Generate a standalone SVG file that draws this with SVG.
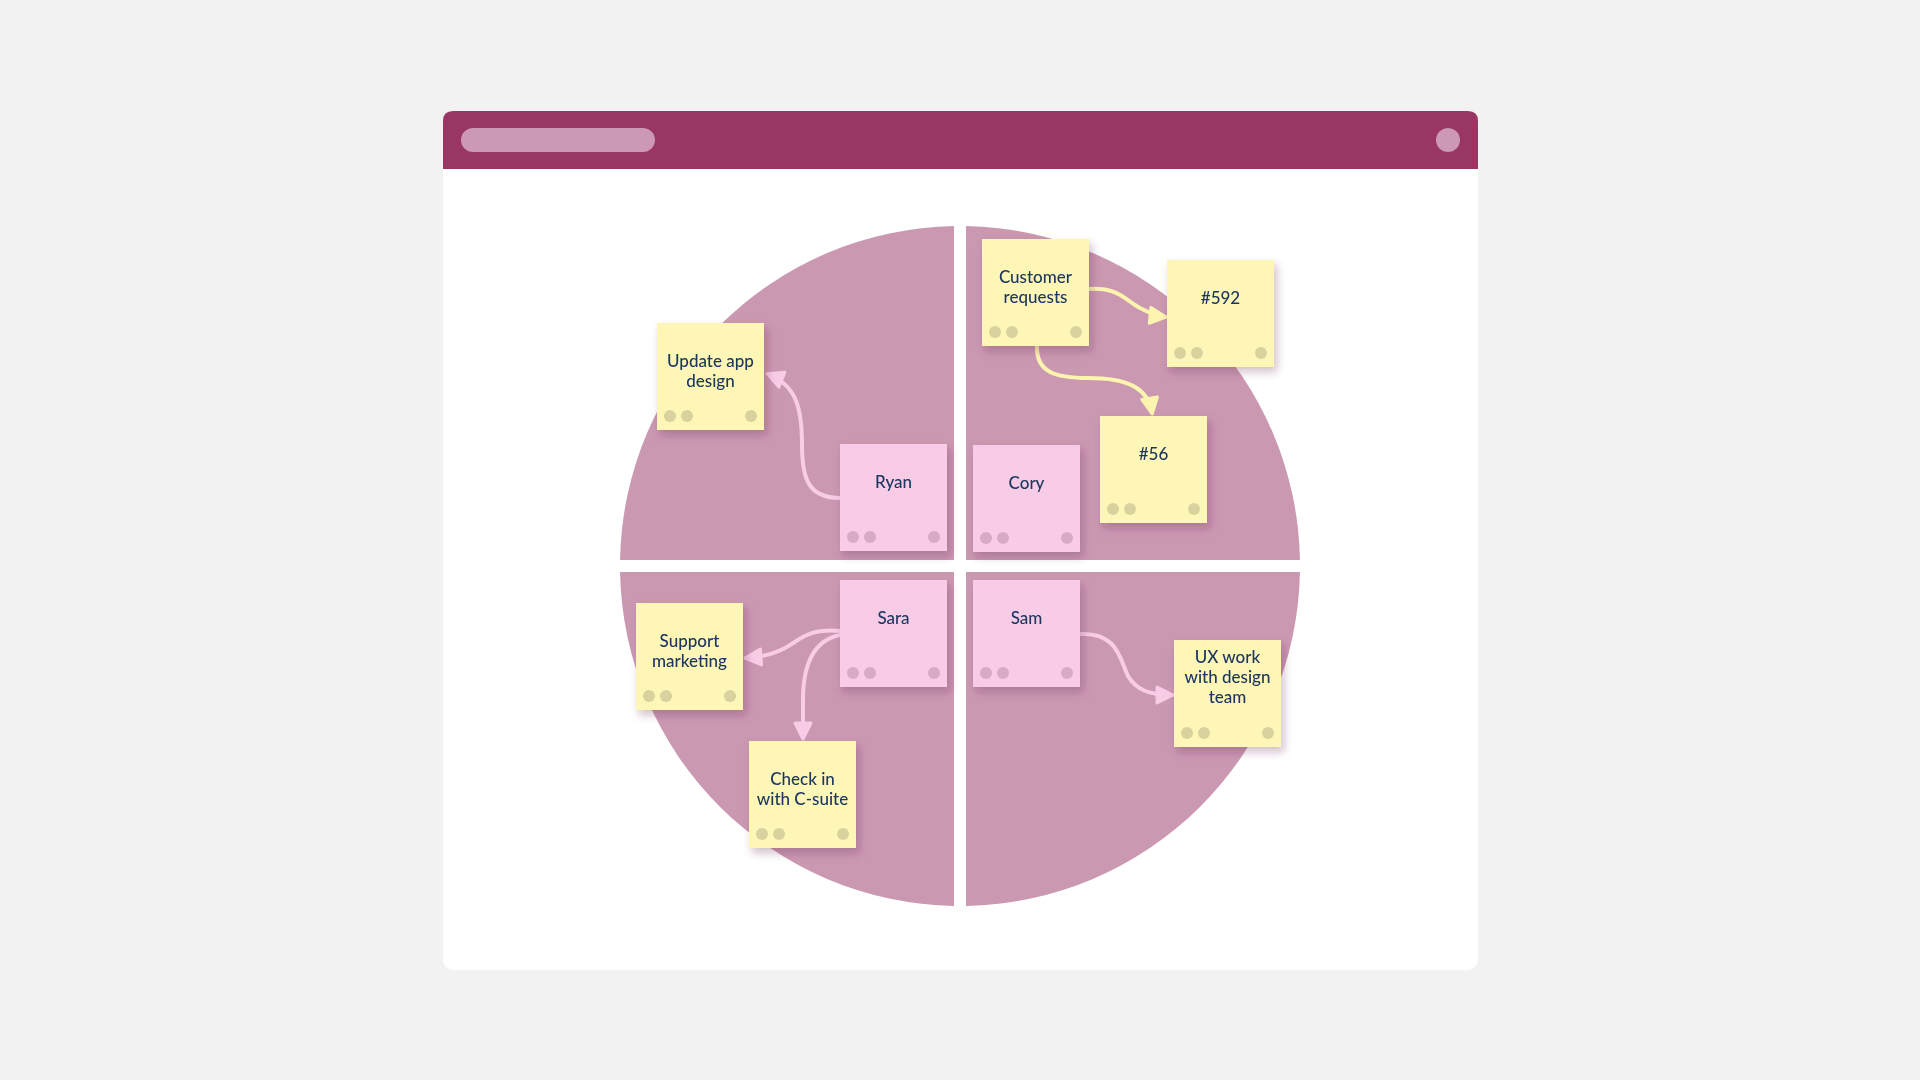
<svg xmlns="http://www.w3.org/2000/svg" width="1920" height="1080" viewBox="0 0 1920 1080">
  <defs>
    <filter id="shadow" x="-20%" y="-20%" width="150%" height="150%">
      <feDropShadow dx="3" dy="5" stdDeviation="4" flood-color="#5a2040" flood-opacity="0.28"/>
    </filter>
    <marker id="arrowPink" markerUnits="userSpaceOnUse" markerWidth="24" markerHeight="24" refX="17" refY="10" orient="auto">
      <path d="M2,2 L18,10 L2,18 Z" fill="#f8cce5" stroke="#f8cce5" stroke-width="3" stroke-linejoin="round"/>
    </marker>
    <marker id="arrowYellow" markerUnits="userSpaceOnUse" markerWidth="24" markerHeight="24" refX="17" refY="10" orient="auto">
      <path d="M2,2 L18,10 L2,18 Z" fill="#fdf4b0" stroke="#fdf4b0" stroke-width="3" stroke-linejoin="round"/>
    </marker>
    <style>
      .quad { fill: #cb98b2; }
      .note-y { fill: #fef6b7; }
      .note-p { fill: #f8cce6; }
      .dot-y { fill: #d9d19e; }
      .dot-p { fill: #d8abc4; }
      .label { font-family: "Lato", "Noto Sans", "Liberation Sans", sans-serif; font-size: 17px; font-weight: 500; fill: #1d3760; text-anchor: middle; }
      .conn-p { fill: none; stroke: #f8cce5; stroke-width: 4; stroke-linecap: round; marker-end: url(#arrowPink); }
      .conn-y { fill: none; stroke: #fdf4b0; stroke-width: 4; stroke-linecap: round; marker-end: url(#arrowYellow); }
    </style>
  </defs>

  <rect x="0" y="0" width="1920" height="1080" fill="#f2f2f2"/>

  <!-- window -->
  <g id="window">
    <rect x="443" y="111" width="1035" height="859" rx="10" fill="#ffffff"/>
    <path d="M443,169 L443,121 Q443,111 453,111 L1468,111 Q1478,111 1478,121 L1478,169 Z" fill="#993663"/>
    <rect x="461" y="128" width="194" height="24" rx="12" fill="#cc98b3"/>
    <circle cx="1448" cy="140" r="12" fill="#cc98b3"/>
  </g>

  <!-- quadrants -->
  <g id="quadrants">
    <path class="quad" d="M954,560 L954,226.05 A340,340 0 0 0 620.05,560 Z"/>
    <path class="quad" d="M966,560 L966,226.05 A340,340 0 0 1 1299.95,560 Z"/>
    <path class="quad" d="M954,572 L954,905.95 A340,340 0 0 1 620.05,572 Z"/>
    <path class="quad" d="M966,572 L966,905.95 A340,340 0 0 0 1299.95,572 Z"/>
  </g>

  <!-- connectors -->
  <g id="connectors">
    <path class="conn-p" d="M840,498 C808,498 802,478 802,445 C802,405 795,385 768,374"/>
    <path class="conn-y" d="M1089,289 C1118,287 1125,300 1140,308 C1150,313 1156,316 1165,317"/>
    <path class="conn-y" d="M1037,346 C1036,372 1055,378 1088,378 C1128,378 1148,388 1152,413"/>
    <path class="conn-p" d="M840,631 C808,628 800,640 785,648 C774,654 760,657 746,658"/>
    <path class="conn-p" d="M840,635 C815,640 803,662 803,700 L803,738"/>
    <path class="conn-p" d="M1080,634 C1118,632 1120,660 1128,676 C1136,690 1150,695 1172,695"/>
  </g>

  <!-- notes -->
  <g id="note-update-app-design" filter="url(#shadow)">
    <rect class="note-y" x="657" y="323" width="107" height="107"/>
    <text class="label" x="710.5" y="367">Update app</text>
    <text class="label" x="710.5" y="387">design</text>
    <circle class="dot-y" cx="670" cy="416" r="6"/>
    <circle class="dot-y" cx="687" cy="416" r="6"/>
    <circle class="dot-y" cx="751" cy="416" r="6"/>
  </g>

  <g id="note-ryan" filter="url(#shadow)">
    <rect class="note-p" x="840" y="444" width="107" height="107"/>
    <text class="label" x="893.5" y="488">Ryan</text>
    <circle class="dot-p" cx="853" cy="537" r="6"/>
    <circle class="dot-p" cx="870" cy="537" r="6"/>
    <circle class="dot-p" cx="934" cy="537" r="6"/>
  </g>

  <g id="note-customer-requests" filter="url(#shadow)">
    <rect class="note-y" x="982" y="239" width="107" height="107"/>
    <text class="label" x="1035.5" y="283">Customer</text>
    <text class="label" x="1035.5" y="303">requests</text>
    <circle class="dot-y" cx="995" cy="332" r="6"/>
    <circle class="dot-y" cx="1012" cy="332" r="6"/>
    <circle class="dot-y" cx="1076" cy="332" r="6"/>
  </g>

  <g id="note-592" filter="url(#shadow)">
    <rect class="note-y" x="1167" y="260" width="107" height="107"/>
    <text class="label" x="1220.5" y="304">#592</text>
    <circle class="dot-y" cx="1180" cy="353" r="6"/>
    <circle class="dot-y" cx="1197" cy="353" r="6"/>
    <circle class="dot-y" cx="1261" cy="353" r="6"/>
  </g>

  <g id="note-56" filter="url(#shadow)">
    <rect class="note-y" x="1100" y="416" width="107" height="107"/>
    <text class="label" x="1153.5" y="460">#56</text>
    <circle class="dot-y" cx="1113" cy="509" r="6"/>
    <circle class="dot-y" cx="1130" cy="509" r="6"/>
    <circle class="dot-y" cx="1194" cy="509" r="6"/>
  </g>

  <g id="note-cory" filter="url(#shadow)">
    <rect class="note-p" x="973" y="445" width="107" height="107"/>
    <text class="label" x="1026.5" y="489">Cory</text>
    <circle class="dot-p" cx="986" cy="538" r="6"/>
    <circle class="dot-p" cx="1003" cy="538" r="6"/>
    <circle class="dot-p" cx="1067" cy="538" r="6"/>
  </g>

  <g id="note-sara" filter="url(#shadow)">
    <rect class="note-p" x="840" y="580" width="107" height="107"/>
    <text class="label" x="893.5" y="624">Sara</text>
    <circle class="dot-p" cx="853" cy="673" r="6"/>
    <circle class="dot-p" cx="870" cy="673" r="6"/>
    <circle class="dot-p" cx="934" cy="673" r="6"/>
  </g>

  <g id="note-support-marketing" filter="url(#shadow)">
    <rect class="note-y" x="636" y="603" width="107" height="107"/>
    <text class="label" x="689.5" y="647">Support</text>
    <text class="label" x="689.5" y="667">marketing</text>
    <circle class="dot-y" cx="649" cy="696" r="6"/>
    <circle class="dot-y" cx="666" cy="696" r="6"/>
    <circle class="dot-y" cx="730" cy="696" r="6"/>
  </g>

  <g id="note-check-in" filter="url(#shadow)">
    <rect class="note-y" x="749" y="741" width="107" height="107"/>
    <text class="label" x="802.5" y="785">Check in</text>
    <text class="label" x="802.5" y="805">with C-suite</text>
    <circle class="dot-y" cx="762" cy="834" r="6"/>
    <circle class="dot-y" cx="779" cy="834" r="6"/>
    <circle class="dot-y" cx="843" cy="834" r="6"/>
  </g>

  <g id="note-sam" filter="url(#shadow)">
    <rect class="note-p" x="973" y="580" width="107" height="107"/>
    <text class="label" x="1026.5" y="624">Sam</text>
    <circle class="dot-p" cx="986" cy="673" r="6"/>
    <circle class="dot-p" cx="1003" cy="673" r="6"/>
    <circle class="dot-p" cx="1067" cy="673" r="6"/>
  </g>

  <g id="note-ux-work" filter="url(#shadow)">
    <rect class="note-y" x="1174" y="640" width="107" height="107"/>
    <text class="label" x="1227.5" y="663">UX work</text>
    <text class="label" x="1227.5" y="683">with design</text>
    <text class="label" x="1227.5" y="703">team</text>
    <circle class="dot-y" cx="1187" cy="733" r="6"/>
    <circle class="dot-y" cx="1204" cy="733" r="6"/>
    <circle class="dot-y" cx="1268" cy="733" r="6"/>
  </g>
</svg>
